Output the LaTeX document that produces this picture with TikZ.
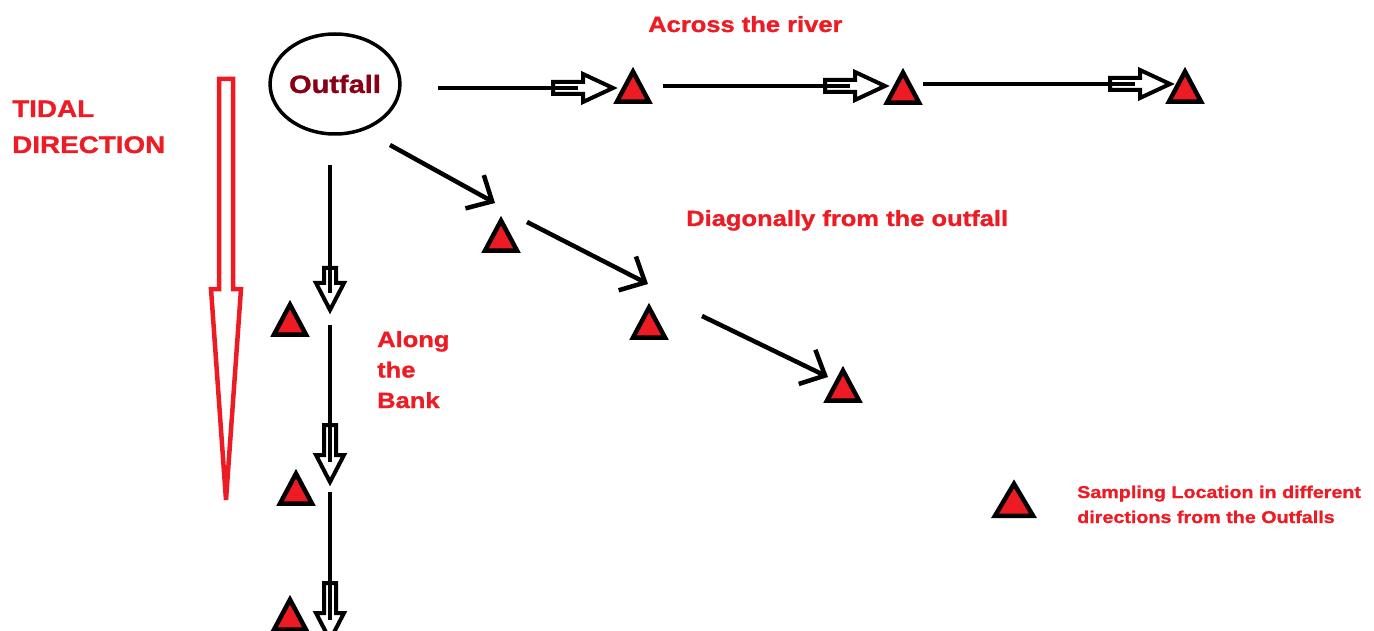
\documentclass[tikz,border=0pt]{standalone}
\usepackage{fontspec}
\usetikzlibrary{shapes.geometric,arrows.meta}
\newfontfamily\lab[FakeStretch=1.16,FakeBold=1.2]{Liberation Sans}
\definecolor{pred}{RGB}{237,28,36}
\definecolor{dred}{RGB}{136,0,21}
\tikzset{
  site/.style={isosceles triangle, isosceles triangle stretches, shape border rotate=90,
    minimum width=32pt, minimum height=30pt, inner sep=0pt,
    draw=black, fill=pred, line width=4.5pt, line join=miter},
  lbl/.style={text=pred, font={\lab\bfseries\fontsize{22}{30.5}\selectfont}, inner sep=0pt,
    anchor=base west, align=left},
  link/.style={draw=black, line width=4.5pt},
  diag/.style={link, -{Straight Barb[length=20pt,width=38pt]}},
  hollowR/.pic={\draw[line width=4pt, line join=miter]
    (-60,-6) -- (-30,-6) -- (-30,-14) -- (0,0) -- (-30,14) -- (-30,6) -- (-60,6) -- cycle;},
  hollowD/.pic={\draw[line width=4pt, line join=miter]
    (-6,-27-#1) -- (-6,-27) -- (-14,-27) -- (0,0) -- (14,-27) -- (6,-27) -- (6,-27-#1) -- cycle;},
}
\begin{document}
\begin{tikzpicture}[x=1pt,y=-1pt]
\useasboundingbox (0,0) rectangle (1374,631);
% tidal direction arrow
\draw[pred, line width=4.5pt, line join=miter]
  (219,79) -- (233,79) -- (233,289) -- (241,289) -- (226,500) -- (211,289) -- (219,289) -- cycle;
\node[lbl, font={\lab\bfseries\fontsize{24}{36}\selectfont}] (tidal) at (12,153) {TIDAL\\DIRECTION};
% outfall
\node[ellipse, draw=black, line width=3.5pt, minimum width=117pt, minimum height=100pt, inner sep=0pt,
  text=dred, font={\lab\bfseries\fontsize{25}{30}\selectfont}] (outfall) at (335,84) {Outfall};
% sampling sites
\node[site] (a1) at (633,92) {};
\node[site] (a2) at (903,93) {};
\node[site] (a3) at (1185,92) {};
\node[site] (d1) at (501,241) {};
\node[site] (d2) at (649,328) {};
\node[site] (d3) at (843,391) {};
\node[site] (v1) at (290,325) {};
\node[site] (v2) at (296,494) {};
\node[site] (v3) at (290,620) {};
\node[site, minimum width=38pt, minimum height=32pt] (leg) at (1014,505) {};
% across the river
\coordinate (h1s) at (438,88);  \coordinate (h1e) at (578,88);  \coordinate (h1t) at (613,88);
\coordinate (h2s) at (663,86);  \coordinate (h2e) at (850,86);  \coordinate (h2t) at (885,86);
\coordinate (h3s) at (923,84);  \coordinate (h3e) at (1135,84); \coordinate (h3t) at (1170,84);
\draw[link] (h1s) -- (h1e);
\draw[link] (h2s) -- (h2e);
\draw[link] (h3s) -- (h3e);
\pic at (h1t) {hollowR};
\pic at (h2t) {hollowR};
\pic at (h3t) {hollowR};
% diagonal
\coordinate (g1s) at (390,145); \coordinate (g1t) at (495,203);
\coordinate (g2s) at (527,222); \coordinate (g2t) at (648,284);
\coordinate (g3s) at (702,316); \coordinate (g3t) at (828,377);
\draw[diag] (g1s) -- (g1t);
\draw[diag] (g2s) -- (g2t);
\draw[diag] (g3s) -- (g3t);
% along the bank
\coordinate (b1s) at (330,165); \coordinate (b1e) at (330,293); \coordinate (b1t) at (330,310);
\coordinate (b2s) at (330,325); \coordinate (b2e) at (330,462); \coordinate (b2t) at (330,482);
\coordinate (b3s) at (330,492); \coordinate (b3e) at (330,620); \coordinate (b3t) at (330,640);
\draw[link] (b1s) -- (b1e);
\draw[link] (b2s) -- (b2e);
\draw[link] (b3s) -- (b3e);
\pic at (b1t) {hollowD=15};
\pic at (b2t) {hollowD=30};
\pic at (b3t) {hollowD=30};
% labels
\node[lbl] (across) at (648,32) {Across the river};
\node[lbl] (diagl) at (686,226) {Diagonally from the outfall};
\node[lbl] (bank) at (377,408) {Along\\the\\Bank};
\node[lbl, font={\lab\bfseries\fontsize{17}{25}\selectfont}] (legtext) at (1077,523)
  {Sampling Location in different\\directions from the Outfalls};
\end{tikzpicture}
\end{document}
